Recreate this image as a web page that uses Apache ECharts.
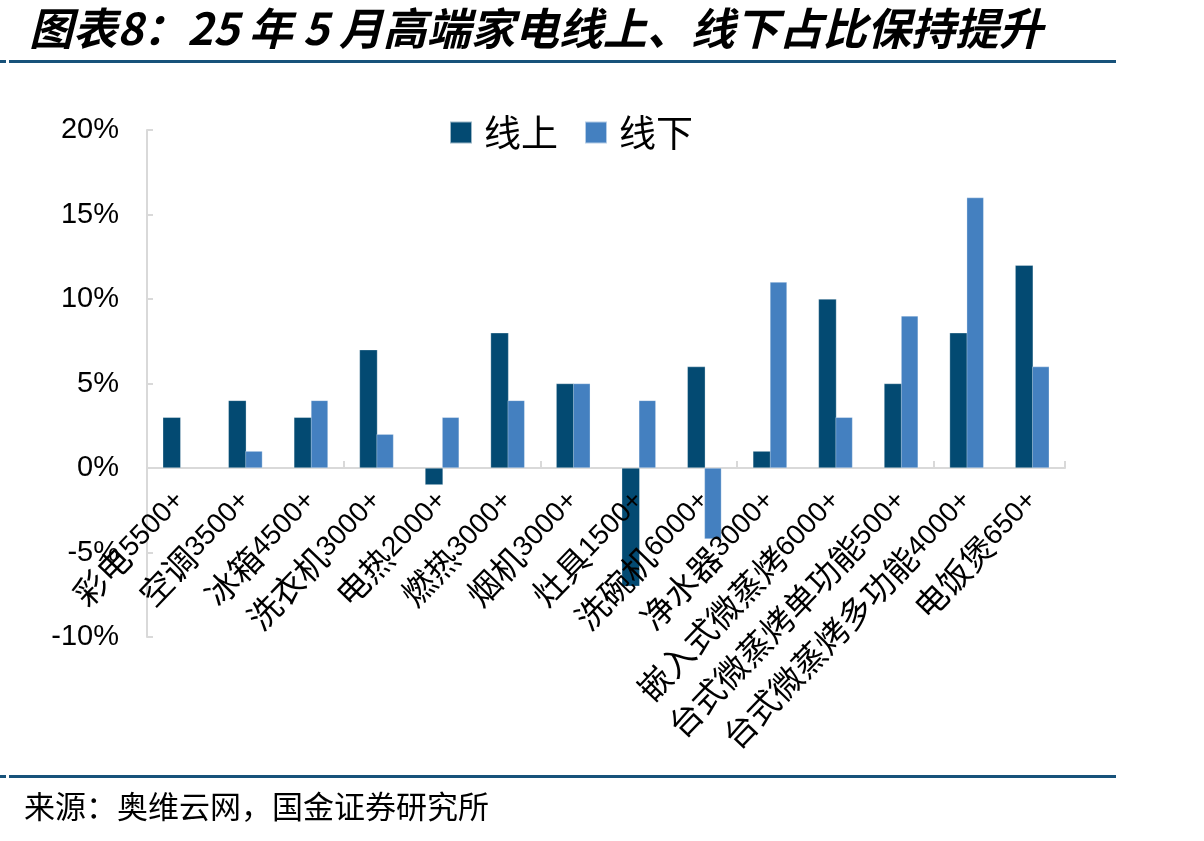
<!DOCTYPE html>
<html>
<head>
<meta charset="utf-8">
<script src="https://cdn.jsdelivr.net/npm/echarts@6/dist/echarts.min.js"></script>
<style>
  html, body { margin: 0; padding: 0; background: #fff; }
  #chart { width: 1204px; height: 841px; }
</style>
</head>
<body>
<div id="chart"></div>
<script>
const categories = ['彩电5500+', '空调3500+', '冰箱4500+', '洗衣机3000+', '电热2000+', '燃热3000+', '烟机3000+', '灶具1500+', '洗碗机6000+', '净水器3000+', '嵌入式微蒸烤6000+', '台式微蒸烤单功能500+', '台式微蒸烤多功能4000+', '电饭煲650+'];
const online = [3, 4, 3, 7, -1, 8, 5, -7, 6, 1, 10, 5, 8, 12];
const offline = [null, 1, 4, 2, 3, 4, 5, 4, -4.2, 11, 3, 9, 16, 6];
const yTicks = [-10, -5, 0, 5, 10, 15, 20];

const darkBlue = '#034a72';
const lightBlue = '#4480c0';
const lineBlue = '#17527a';
const cjk = '"Noto Sans CJK SC", sans-serif';

const chart = echarts.init(document.getElementById('chart'));

// split label into chinese part and number part
const splitLabel = (s) => {
  const i = s.search(/[0-9]/);
  return '{c|' + s.slice(0, i) + '}{n|' + s.slice(i) + '}';
};

const option = {
  animation: false,
  title: {
    text: '图表8：25 年 5 月高端家电线上、线下占比保持提升',
    left: 24,
    top: 1,
    textStyle: {
      fontFamily: cjk,
      fontSize: 44,
      fontWeight: 'bold',
      fontStyle: 'italic',
      color: '#000'
    }
  },
  graphic: [
    { type: 'rect', shape: { x: 0, y: 60, width: 6, height: 3 }, style: { fill: lineBlue } },
    { type: 'rect', shape: { x: 9, y: 60, width: 1107, height: 3 }, style: { fill: lineBlue } },
    { type: 'rect', shape: { x: 0, y: 775, width: 6, height: 3 }, style: { fill: lineBlue } },
    { type: 'rect', shape: { x: 9, y: 775, width: 1107, height: 3 }, style: { fill: lineBlue } },
    {
      type: 'text',
      left: 24,
      top: 791,
      style: {
        text: '来源：奥维云网，国金证券研究所',
        font: '31px "Noto Sans CJK SC", sans-serif',
        fill: '#000'
      }
    }
  ],
  legend: {
    data: ['线上', '线下'],
    top: 109,
    left: 444,
    icon: 'rect',
    itemWidth: 22,
    itemHeight: 22,
    itemGap: 26,
    textStyle: { fontFamily: cjk, fontSize: 37, color: '#000', padding: [0, 0, 0, 7] }
  },
  grid: { left: 147, right: 139, top: 130, bottom: 204, containLabel: false },
  xAxis: [
    {
      type: 'category',
      data: categories,
      axisLine: { onZero: true, lineStyle: { color: '#d9d9d9', width: 2 } },
      axisTick: { show: true, inside: true, length: 7, lineStyle: { color: '#d9d9d9', width: 2 } },
      axisLabel: { show: false }
    },
    {
      type: 'category',
      data: categories,
      position: 'bottom',
      offset: -169,
      z: 10,
      axisLine: { show: false },
      axisTick: { show: false },
      axisLabel: {
        interval: 0,
        rotate: 46,
        margin: 28,
        color: '#000',
        formatter: splitLabel,
        rich: {
          c: { fontFamily: cjk, fontSize: 33, color: '#000' },
          n: { fontFamily: 'Liberation Sans, Arial, sans-serif', fontSize: 28, color: '#000' }
        }
      }
    }
  ],
  yAxis: {
    type: 'value',
    min: -10,
    max: 20,
    interval: 5,
    splitLine: { show: false },
    axisLine: { show: true, lineStyle: { color: '#d9d9d9', width: 2 } },
    axisTick: { show: true, inside: true, length: 6, lineStyle: { color: '#d9d9d9', width: 2 } },
    axisLabel: {
      margin: 28,
      fontFamily: 'Liberation Sans, Arial, sans-serif',
      fontSize: 29,
      color: '#000',
      formatter: v => yTicks.includes(v) ? v + '%' : ''
    }
  },
  series: [
    {
      name: '线上',
      type: 'bar',
      data: online,
      barWidth: 18,
      barGap: '-5%',
      itemStyle: { color: darkBlue, borderColor: 'rgba(255,255,255,0.6)', borderWidth: 0.5 }
    },
    {
      name: '线下',
      type: 'bar',
      data: offline,
      barWidth: 17,
      itemStyle: { color: lightBlue, borderColor: 'rgba(255,255,255,0.6)', borderWidth: 0.5 }
    }
  ]
};

chart.setOption(option);
</script>
</body>
</html>
